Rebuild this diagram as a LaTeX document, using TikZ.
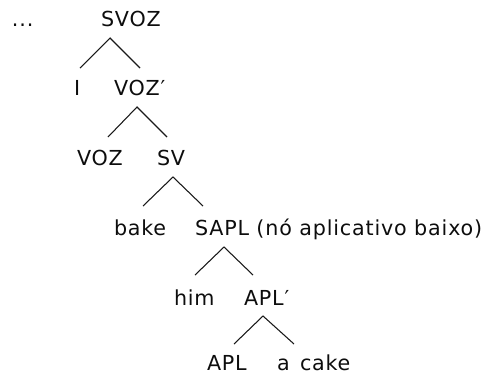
\documentclass[tikz,border=0pt]{standalone}
\usepackage{fontspec}
\setmainfont{DejaVu Sans}[LetterSpace=4]
\begin{document}
\begin{tikzpicture}[x=0.75pt,y=-0.75pt,
  lbl/.style={anchor=base west,inner sep=0pt,outer sep=0pt,
    font=\fontsize{15.5pt}{18pt}\selectfont,text=black!95},
  branch/.style={line width=0.8pt,draw=black!90}]
\useasboundingbox (0,0) rectangle (488,375);

% --- labels, placed by left edge and baseline (pixel units, y downwards)
\node[lbl] (dots) at (12,26) {...};
\node[lbl] (svoz) at (101,26) {SVOZ};
\node[lbl] (i)    at (74,95) {I};
\node[lbl] (vozb) at (114,95) {VOZ′};
\node[lbl] (voz)  at (77,165) {VOZ};
\node[lbl] (sv)   at (157,165) {SV};
\node[lbl] (bake) at (114,235) {bake};
\node[lbl] (sapl) at (195,235) {SAPL (nó aplicativo baixo)};
\node[lbl] (him)  at (174,305) {him};
\node[lbl] (aplb) at (244,305) {APL′};
\node[lbl] (apl)  at (207,370) {APL};
\node[lbl] (cake) at (277,370) {a\hspace{0.5em}cake};

% --- branch points: apex under each mother, ends above each daughter
\coordinate (svoz-a) at (110,38);  \coordinate (i-t)    at (80,68);  \coordinate (vozb-t) at (140,68);
\coordinate (vozb-a) at (137,107); \coordinate (voz-t)  at (108,137); \coordinate (sv-t)  at (167,137);
\coordinate (sv-a)   at (173,177); \coordinate (bake-t) at (143,206); \coordinate (sapl-t) at (203,206);
\coordinate (sapl-a) at (224,247); \coordinate (him-t)  at (195,275); \coordinate (aplb-t) at (253,275);
\coordinate (aplb-a) at (263,316); \coordinate (apl-t)  at (234,344); \coordinate (cake-t) at (294,344);

% --- branches
\draw[branch] (i-t) -- (svoz-a) -- (vozb-t);
\draw[branch] (voz-t) -- (vozb-a) -- (sv-t);
\draw[branch] (bake-t) -- (sv-a) -- (sapl-t);
\draw[branch] (him-t) -- (sapl-a) -- (aplb-t);
\draw[branch] (apl-t) -- (aplb-a) -- (cake-t);
\end{tikzpicture}
\end{document}
